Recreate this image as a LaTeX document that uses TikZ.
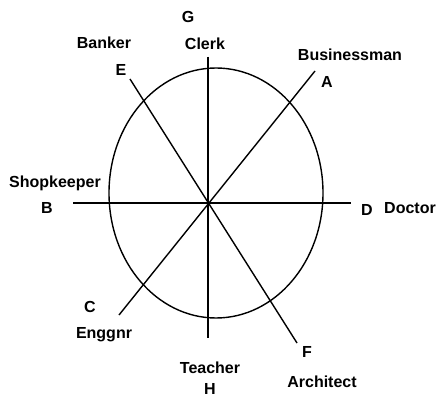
\documentclass[tikz,border=0pt]{standalone}
\usepackage{fontspec}
\setmainfont{Liberation Sans}
\begin{document}
\begin{tikzpicture}[x=1pt, y=-1pt, line width=1.4pt,
  lbl/.style={anchor=base, inner sep=0pt, font=\fontsize{16}{18}\selectfont\bfseries}]
\useasboundingbox (0,0) rectangle (436,398);
\draw (216,193) ellipse [x radius=107pt, y radius=125pt];
\coordinate (g1) at (208,57);
\coordinate (g2) at (208,101);
\coordinate (h1) at (208,338);
\coordinate (b1) at (73,203);
\coordinate (d1) at (351,203);
\coordinate (e1) at (130,79);
\coordinate (f1) at (297,343);
\coordinate (a1) at (315,71);
\coordinate (c1) at (119,315);
\draw (g1) -- (h1);
\draw[line width=2.4pt] (g1) -- (g2);
\draw (b1) -- (d1);
\draw (e1) -- (f1);
\draw (a1) -- (c1);
\node[lbl] (g) at (188,23) {G};
\node[lbl] (clerk) at (205,50) {Clerk};
\node[lbl] (banker) at (104,49) {Banker};
\node[lbl] (e) at (121,76) {E};
\node[lbl] (busi) at (350,61) {Businessman};
\node[lbl] (a) at (327,88) {A};
\node[lbl] (shop) at (55,188) {Shopkeeper};
\node[lbl] (b) at (47,213) {B};
\node[lbl] (d) at (367,215) {D};
\node[lbl] (doctor) at (410,213) {Doctor};
\node[lbl] (c) at (90,312) {C};
\node[lbl] (eng) at (104,338) {Enggnr};
\node[lbl] (f) at (307,357) {F};
\node[lbl] (teacher) at (210,373) {Teacher};
\node[lbl] (arch) at (322,387) {Architect};
\node[lbl] (h) at (210,394) {H};
\end{tikzpicture}
\end{document}
